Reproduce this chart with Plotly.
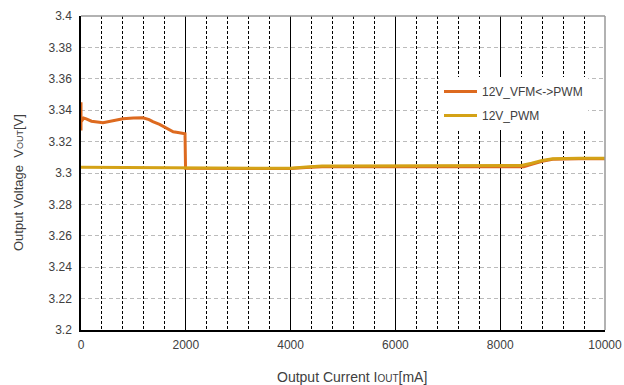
import plotly.graph_objects as go

# ---- data ----
vfm_current = [0, 0, 0, 20, 50, 100, 200, 420, 600, 800, 1000, 1180, 1300, 1370, 1500, 1640, 1760, 1850, 1950, 1985, 1995, 2200, 2600, 3000, 3500, 4000, 4300, 4600, 5000, 5500, 6000, 6500, 7000, 7500, 8000, 8300, 8450, 8600, 8800, 9000, 9200, 9500, 10000]
vfm_voltage = [3.327, 3.345, 3.334, 3.3335, 3.335, 3.3345, 3.333, 3.332, 3.333, 3.3345, 3.335, 3.3352, 3.334, 3.3327, 3.331, 3.3285, 3.3263, 3.3258, 3.3253, 3.325, 3.3030, 3.3030, 3.3030, 3.3030, 3.3028, 3.3028, 3.3035, 3.3040, 3.3040, 3.3040, 3.3038, 3.3038, 3.3038, 3.3037, 3.3036, 3.3036, 3.3040, 3.3055, 3.3075, 3.3087, 3.3090, 3.3091, 3.3090]

pwm_current = [0, 500, 1000, 1500, 2000, 2500, 3000, 3500, 4000, 4300, 4600, 5000, 5500, 6000, 6500, 7000, 7500, 8000, 8400, 8600, 8800, 9000, 9200, 9500, 10000]
pwm_voltage = [3.3036, 3.3035, 3.3035, 3.3035, 3.3034, 3.3033, 3.3032, 3.3031, 3.3030, 3.3038, 3.3044, 3.3044, 3.3044, 3.3044, 3.3044, 3.3044, 3.3045, 3.3046, 3.3048, 3.3062, 3.3080, 3.3090, 3.3093, 3.3094, 3.3094]

series_names = ["12V_VFM&lt;-&gt;PWM", "12V_PWM"]
x_ticks = [0, 2000, 4000, 6000, 8000, 10000]
x_tick_labels = ["0", "2000", "4000", "6000", "8000", "10000"]
y_ticks = [3.2, 3.22, 3.24, 3.26, 3.28, 3.3, 3.32, 3.34, 3.36, 3.38, 3.4]
y_tick_labels = ["3.2", "3.22", "3.24", "3.26", "3.28", "3.3", "3.32", "3.34", "3.36", "3.38", "3.4"]
x_title = "Output Current I<span style='font-size:10px'>OUT</span>[mA]"
y_title = "Output Voltage  V<span style='font-size:9px'>OUT</span>[V]"

FONT = "Liberation Sans, Arial, sans-serif"
TXT = "#404040"

# plot area in pixels
L, R, T, B = 81, 605, 16, 330
W, H = R - L, B - T

fig = go.Figure()
fig.add_trace(go.Scatter(x=vfm_current, y=vfm_voltage, mode="lines", name=series_names[0],
                         legendgroup="a", line=dict(color="#DD6A1F", width=3)))
fig.add_trace(go.Scatter(x=pwm_current, y=pwm_voltage, mode="lines", name=series_names[1],
                         legendgroup="b", line=dict(color="#D4A216", width=3)))

fig.update_layout(
    width=624, height=385,
    margin=dict(l=L, r=624 - R, t=T, b=385 - B),
    paper_bgcolor="white", plot_bgcolor="white",
    font=dict(family=FONT, size=12, color=TXT),
    showlegend=True,
    legend=dict(x=(439 - L) / W, y=(B - 77) / H, xanchor="left", yanchor="top",
                bgcolor="white", borderwidth=0, font=dict(size=12, color=TXT),
                tracegroupgap=5, itemwidth=33),
    xaxis=dict(
        range=[0, 10000], tickvals=x_ticks, ticktext=x_tick_labels, ticks="", showline=True,
        linecolor="black", linewidth=1.5, ticklabelstandoff=3,
        mirror=False, showgrid=True, gridcolor="black", gridwidth=1, zeroline=False, automargin=False,
        minor=dict(dtick=400, showgrid=True, gridcolor="black", griddash="3px,2px", gridwidth=1.3, ticks=""),
        tickfont=dict(size=12),
    ),
    yaxis=dict(
        range=[3.2, 3.4], tickvals=y_ticks, ticktext=y_tick_labels, ticks="", showline=True,
        linecolor="black", linewidth=1.5, showgrid=True, gridcolor="#BBBBBB", griddash="4px,3px",
        gridwidth=1, zeroline=False, automargin=False, ticklabelstandoff=5,
        tickfont=dict(size=12),
    ),
    annotations=[
        dict(text=y_title, textangle=-90, xref="paper", yref="paper",
             x=(18 - L) / W, y=(B - 183) / H, xanchor="center", yanchor="middle",
             showarrow=False, font=dict(size=13, color=TXT)),
        dict(text=x_title, xref="paper", yref="paper",
             x=(352 - L) / W, y=(B - 377) / H, xanchor="center", yanchor="middle",
             showarrow=False, font=dict(size=14, color=TXT)),
    ],
)

# right and top borders (gray)
fig.add_shape(type="line", xref="paper", yref="paper", x0=1, x1=1, y0=0, y1=1,
              line=dict(color="#999999", width=1.5))
fig.add_shape(type="line", xref="paper", yref="paper", x0=0, x1=1, y0=1, y1=1,
              line=dict(color="#999999", width=1.5))

fig.write_html("out.html", config={"displayModeBar": False},
               post_script="document.body.style.margin='0';document.body.style.overflow='hidden';")
